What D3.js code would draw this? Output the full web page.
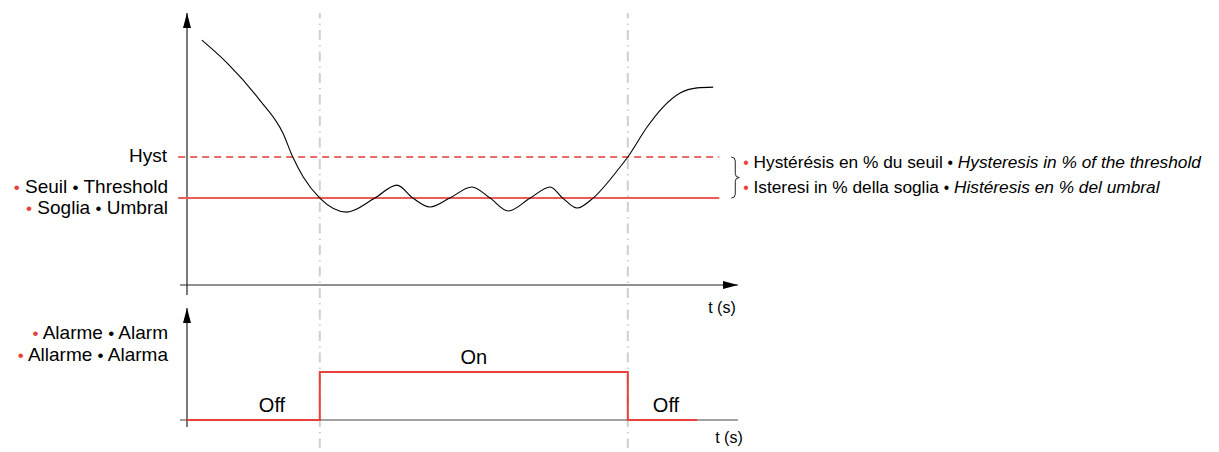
<!DOCTYPE html>
<html>
<head>
<meta charset="utf-8">
<script src="https://cdn.jsdelivr.net/npm/d3@7"></script>
<style>
  body { margin: 0; background: #fff; }
  svg { display: block; font-family: "Liberation Sans", Arial, sans-serif; }
</style>
</head>
<body>
<svg id="chart"></svg>
<script>
// measured signal (t in % of the time span, value in % of the y span)
const curveT = [2.7, 7.3, 13.2, 17.4, 19.2, 21.1, 24.1, 29.0, 34.1, 38.1, 41.0, 44.1, 47.7, 51.7, 55.0, 58.3, 62.3, 65.9, 68.2, 70.8, 73.7, 78.6, 80.0, 83.5, 86.4, 89.5, 92.6, 95.5];
const curveV = [90.7, 82.2, 68.5, 56.3, 47.4, 40.0, 32.2, 27.0, 32.2, 37.0, 32.2, 28.9, 32.2, 36.3, 32.2, 27.4, 32.2, 36.3, 32.2, 28.5, 32.2, 43.7, 47.4, 58.5, 65.9, 71.1, 73.0, 73.3];

const thresholdLevel = 32.2;
const hystLevel = 47.4;
const levelSpan = [-1.6, 96.6];

// alarm output
const alarmT = [0, 24.1, 80.0, 92.6];
const alarmState = [0, 1, 0, 0];
const switchT = [24.1, 80.0];

const thresholdLines = [["Seuil", "Threshold"], ["Soglia", "Umbral"]];
const alarmLines = [["Alarme", "Alarm"], ["Allarme", "Alarma"]];
const hystNote = [
  ["Hystérésis en % du seuil", "Hysteresis in % of the threshold"],
  ["Isteresi in % della soglia", "Histéresis en % del umbral"]
];

const width = 1219, height = 452;
const red = "#e8403a", axisCol = "#222";

const svg = d3.select("#chart").attr("width", width).attr("height", height);

const x = d3.scaleLinear().domain([0, 100]).range([187, 738]);
const y = d3.scaleLinear().domain([0, 100]).range([285, 15]);
const yAlarm = d3.scaleLinear().domain([0, 1]).range([420, 372]);

// arrow heads
const defs = svg.append("defs");
defs.append("marker")
  .attr("id", "arrow")
  .attr("viewBox", "0 0 15 8")
  .attr("refX", 15).attr("refY", 4)
  .attr("markerWidth", 15).attr("markerHeight", 8)
  .attr("markerUnits", "userSpaceOnUse")
  .attr("orient", "auto")
  .append("path")
  .attr("d", "M0,0L15,4L0,8Z")
  .attr("fill", "#000");

// switching guides
svg.selectAll(".guide")
  .data(switchT)
  .enter().append("line")
  .attr("class", "guide")
  .attr("x1", d => x(d)).attr("x2", d => x(d))
  .attr("y1", 13).attr("y2", 448)
  .attr("stroke", "#cfcfcf")
  .attr("stroke-width", 2)
  .attr("stroke-dasharray", "10,5,1.5,5")
  .attr("stroke-dashoffset", 4.5);

// top axes
svg.append("line")
  .attr("x1", x.range()[0] - 7).attr("x2", x.range()[1])
  .attr("y1", y(0)).attr("y2", y(0))
  .attr("stroke", axisCol).attr("stroke-width", 1.2)
  .attr("marker-end", "url(#arrow)");
svg.append("line")
  .attr("x1", x(0)).attr("x2", x(0))
  .attr("y1", y(0) + 10).attr("y2", 13)
  .attr("stroke", axisCol).attr("stroke-width", 1.2)
  .attr("marker-end", "url(#arrow)");

// bottom axes
svg.append("line")
  .attr("x1", x.range()[0] - 7).attr("x2", x.range()[1])
  .attr("y1", yAlarm(0)).attr("y2", yAlarm(0))
  .attr("stroke", "#444").attr("stroke-width", 1.2);
svg.append("line")
  .attr("x1", x(0)).attr("x2", x(0))
  .attr("y1", yAlarm(0) + 7).attr("y2", 308)
  .attr("stroke", axisCol).attr("stroke-width", 1.2)
  .attr("marker-end", "url(#arrow)");

// threshold + hysteresis levels
svg.append("line")
  .attr("x1", x(levelSpan[0])).attr("x2", x(levelSpan[1]))
  .attr("y1", y(hystLevel)).attr("y2", y(hystLevel))
  .attr("stroke", "#e33a32").attr("stroke-width", 1.5)
  .attr("stroke-dasharray", "7,5");
svg.append("line")
  .attr("x1", x(levelSpan[0])).attr("x2", x(levelSpan[1]))
  .attr("y1", y(thresholdLevel)).attr("y2", y(thresholdLevel))
  .attr("stroke", "#ec5b55").attr("stroke-width", 2);

// signal
const line = d3.line()
  .x(d => x(d[0]))
  .y(d => y(d[1]))
  .curve(d3.curveMonotoneX);
svg.append("path")
  .datum(d3.zip(curveT, curveV))
  .attr("d", line)
  .attr("fill", "none")
  .attr("stroke", "#000")
  .attr("stroke-width", 1.1);

// alarm step
const step = d3.line()
  .x(d => x(d[0]))
  .y(d => yAlarm(d[1]))
  .curve(d3.curveStepAfter);
svg.append("path")
  .datum(d3.zip(alarmT, alarmState))
  .attr("d", step)
  .attr("fill", "none")
  .attr("stroke", red)
  .attr("stroke-width", 2);

// two-line label block, one <text> with a tspan row per line; small bullets
function bulletBlock(x0, y0, rows, lineH, opts) {
  const t = svg.append("text")
    .attr("x", x0).attr("y", y0)
    .attr("text-anchor", opts.anchor)
    .attr("font-size", opts.size);
  rows.forEach((words, r) => {
    words.forEach((w, i) => {
      if (i > 0) t.append("tspan").text(" ");
      const b = t.append("tspan")
        .attr("fill", i === 0 ? red : "#000")
        .attr("font-size", opts.size * 0.9)
        .text("•");
      if (i === 0 && r > 0) b.attr("x", x0).attr("dy", lineH);
      t.append("tspan")
        .attr("font-style", opts.italic && i > 0 ? "italic" : null)
        .text(" " + w);
    });
  });
}

svg.append("text")
  .attr("x", 167).attr("y", 162)
  .attr("text-anchor", "end").attr("font-size", 19)
  .text("Hyst");

bulletBlock(168, 192.5, thresholdLines, 21.5, { anchor: "end", size: 19 });
bulletBlock(168, 339, alarmLines, 22, { anchor: "end", size: 19 });

// brace for hysteresis band
const bx = x(levelSpan[1]) + 12, y0 = y(hystLevel), y1 = y(thresholdLevel), ym = (y0 + y1) / 2;
svg.append("path")
  .attr("d", `M${bx},${y0} q4,0 4,4 V${ym - 4} q0,4 4,4 q-4,0 -4,4 V${y1 - 4} q0,4 -4,4`)
  .attr("fill", "none").attr("stroke", "#222").attr("stroke-width", 1);

bulletBlock(bx + 12, 168, hystNote, 25, { anchor: "start", size: 17.3, italic: true });

svg.append("text")
  .attr("x", (x(switchT[0]) + x(switchT[1])) / 2).attr("y", 364)
  .attr("text-anchor", "middle").attr("font-size", 20)
  .text("On");
svg.append("text")
  .attr("x", 272).attr("y", 412)
  .attr("text-anchor", "middle").attr("font-size", 20)
  .text("Off");
svg.append("text")
  .attr("x", 666).attr("y", 412)
  .attr("text-anchor", "middle").attr("font-size", 20)
  .text("Off");

svg.append("text")
  .attr("x", 722).attr("y", 313)
  .attr("text-anchor", "middle").attr("font-size", 16)
  .text("t (s)");
svg.append("text")
  .attr("x", 729).attr("y", 443)
  .attr("text-anchor", "middle").attr("font-size", 16)
  .text("t (s)");
</script>
</body>
</html>
